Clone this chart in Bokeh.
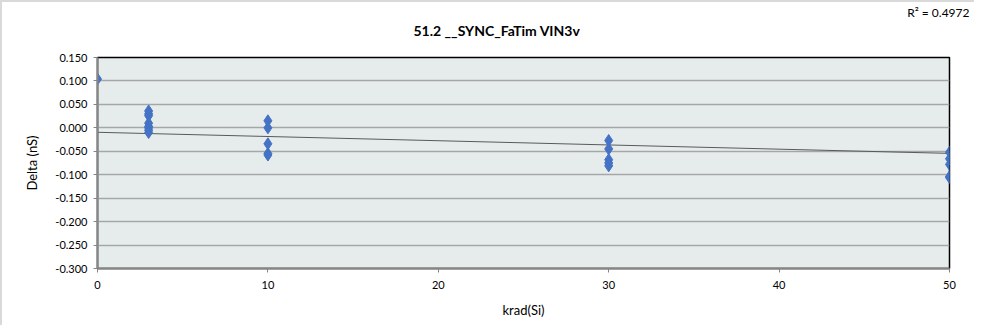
from bokeh.plotting import figure
from bokeh.models import Range1d, FixedTicker, NumeralTickFormatter, Title, ColumnDataSource
from bokeh.embed import file_html
from bokeh.resources import INLINE

# data
dose_krad = [0, 3, 3, 3, 3, 3, 3, 3, 3, 10, 10, 10, 10, 10, 30, 30, 30, 30, 30, 50, 50, 50, 50, 50]
delta_ns = [0.104, 0.036, 0.030, 0.026, 0.010, 0.003, 0.000, -0.005, -0.010,
            0.015, 0.000, -0.034, -0.055, -0.058,
            -0.027, -0.045, -0.068, -0.075, -0.081,
            -0.052, -0.066, -0.078, -0.104, -0.106]
trend_x = [0, 50]
trend_y = [-0.0095, -0.0545]
y_ticks = [-0.30, -0.25, -0.20, -0.15, -0.10, -0.05, 0.0, 0.05, 0.10, 0.15]
x_ticks = [0, 10, 20, 30, 40, 50]
title_text = "51.2 __SYNC_FaTim VIN3v"
r2_text = "R\u00b2 = 0.4972"

font = "Lato"

p = figure(width=974, height=325, output_backend="svg", toolbar_location=None,
           x_range=Range1d(0, 50), y_range=Range1d(-0.30, 0.15),
           min_border_left=95, min_border_right=27, min_border_top=54, min_border_bottom=59)
p.title.visible = False
p.background_fill_color = "#E6ECEC"
p.border_fill_color = "white"
p.outline_line_color = "black"
p.outline_line_width = 1.5
p.styles = {"border-left": "2px solid #D9D9D9", "border-top": "2px solid #D9D9D9"}

p.xgrid.visible = False
p.ygrid.grid_line_color = "#A6A6A6"
p.ygrid.grid_line_width = 1.5
p.ygrid.ticker = FixedTicker(ticks=y_ticks)

p.yaxis.ticker = FixedTicker(ticks=y_ticks)
p.yaxis.formatter = NumeralTickFormatter(format="0.000")
p.xaxis.ticker = FixedTicker(ticks=x_ticks)
for ax in (p.xaxis, p.yaxis):
    ax.axis_line_color = "#868686"
    ax.axis_line_width = 2
    ax.major_tick_line_color = "#868686"
    ax.major_tick_in = 0
    ax.major_tick_out = 4
    ax.minor_tick_line_color = None
    ax.major_label_text_font = font
    ax.major_label_text_font_size = "11px"
    ax.major_label_text_color = "black"
    ax.axis_label_text_font = font
    ax.axis_label_text_font_size = "13px"
    ax.axis_label_text_font_style = "normal"
    ax.axis_label_text_color = "black"
p.xaxis.axis_label = "krad(Si)"
p.yaxis.axis_label = "Delta (nS)"
p.xaxis.major_label_standoff = 8
p.xaxis.axis_label_standoff = 10
p.yaxis.major_label_standoff = 6
p.yaxis.axis_label_standoff = 12

# linear trend line
p.line(trend_x, trend_y, line_color="#595959", line_width=1)

src = ColumnDataSource(dict(x=dose_krad, y=delta_ns))
p.scatter("x", "y", source=src, marker="diamond", size=12, fill_color="#4472C4",
          line_color="#4472C4")

spacer = Title(text=" ", align="left", text_font=font, text_font_size="14px", standoff=0)
p.add_layout(spacer, "above")
main_title = Title(text=title_text, align="left", offset=316, text_font=font,
                   text_font_size="14px", text_font_style="bold", text_color="black",
                   standoff=0)
p.add_layout(main_title, "above")
r2_title = Title(text=r2_text, align="right", offset=-20, text_font=font,
                 text_font_size="12px", text_font_style="normal", text_color="black",
                 standoff=0)
p.add_layout(r2_title, "above")

open("out.html", "w").write(file_html(p, INLINE))
